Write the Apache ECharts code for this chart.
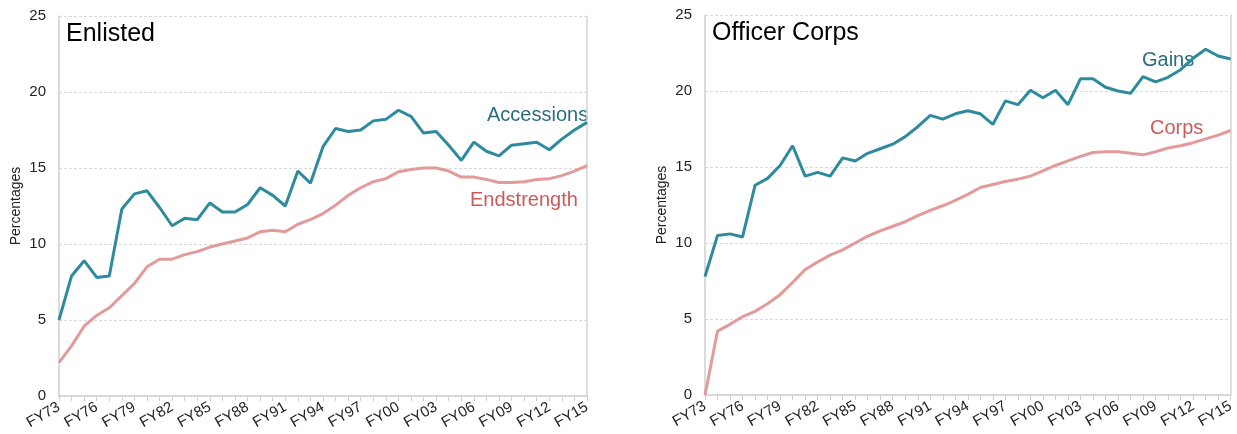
<!DOCTYPE html>
<html>
<head>
<meta charset="utf-8">
<script src="https://cdn.jsdelivr.net/npm/echarts@6/dist/echarts.min.js"></script>
<style>
  html, body { margin: 0; padding: 0; background: #fff; }
  #chart { width: 1237px; height: 434px; }
</style>
</head>
<body>
<div id="chart"></div>
<script>
// fiscal years FY73 .. FY15
const years = [];
for (let y = 1973; y <= 2015; y++) years.push('FY' + String(y % 100).padStart(2, '0'));

const yTicks = [0, 5, 10, 15, 20, 25];

// Enlisted panel
const accessions = [5.0, 7.9, 8.9, 7.8, 7.9, 12.3, 13.3, 13.5, 12.4, 11.2,
  11.7, 11.6, 12.7, 12.1, 12.1, 12.6, 13.7, 13.2, 12.5, 14.8,
  14.0, 16.4, 17.6, 17.4, 17.5, 18.1, 18.2, 18.8, 18.4, 17.3,
  17.4, 16.5, 15.5, 16.7, 16.1, 15.8, 16.5, 16.6, 16.7, 16.2,
  16.9, 17.5, 18.0];
const endstrength = [2.2, 3.3, 4.6, 5.3, 5.8, 6.6, 7.4, 8.5, 9.0, 9.0,
  9.3, 9.5, 9.8, 10.0, 10.2, 10.4, 10.8, 10.9, 10.8, 11.3,
  11.6, 12.0, 12.55, 13.2, 13.7, 14.1, 14.3, 14.75, 14.9, 15.0,
  15.0, 14.8, 14.4, 14.4, 14.25, 14.05, 14.05, 14.1, 14.25, 14.3,
  14.5, 14.8, 15.15];

// Officer Corps panel
const gains = [7.8, 10.5, 10.6, 10.4, 13.8, 14.25, 15.1, 16.4, 14.4, 14.65,
  14.4, 15.6, 15.4, 15.9, 16.2, 16.5, 17.0, 17.65, 18.4, 18.15,
  18.5, 18.7, 18.5, 17.8, 19.35, 19.1, 20.05, 19.55, 20.05, 19.1,
  20.8, 20.8, 20.25, 20.0, 19.85, 20.95, 20.6, 20.9, 21.4, 22.15,
  22.75, 22.3, 22.1];
const corps = [0.0, 4.2, 4.65, 5.15, 5.5, 6.0, 6.6, 7.4, 8.25, 8.75,
  9.2, 9.55, 10.0, 10.45, 10.8, 11.1, 11.4, 11.8, 12.15, 12.45,
  12.8, 13.2, 13.65, 13.85, 14.05, 14.2, 14.4, 14.75, 15.1, 15.4,
  15.7, 15.95, 16.0, 16.0, 15.9, 15.8, 16.0, 16.25, 16.4, 16.6,
  16.85, 17.1, 17.4];

const teal = '#2e8a9d';
const pink = '#e39a9a';
const tealText = '#2a6d7f';
const pinkText = '#cc5a5a';
const font = 'Liberation Sans, Arial, sans-serif';

const chart = echarts.init(document.getElementById('chart'));

function xAxisFor(gridIndex) {
  return {
    type: 'category',
    gridIndex: gridIndex,
    data: years,
    boundaryGap: false,
    axisLine: { lineStyle: { color: '#cfcfcf', width: 1.5 } },
    axisTick: { show: true, interval: 0, length: 5, lineStyle: { color: '#cfcfcf' } },
    axisLabel: {
      interval: 2, rotate: 30, color: '#222', fontSize: 15, fontFamily: font, margin: 10
    },
    splitLine: { show: false }
  };
}

function yAxisFor(gridIndex) {
  return {
    type: 'value',
    gridIndex: gridIndex,
    min: yTicks[0],
    max: yTicks[yTicks.length - 1],
    interval: 5,
    name: 'Percentages',
    nameLocation: 'middle',
    nameGap: 36,
    nameTextStyle: { color: '#222', fontSize: 14, fontFamily: font },
    axisLine: { show: true, lineStyle: { color: '#cfcfcf', width: 1.5 } },
    axisTick: { show: false },
    axisLabel: { color: '#222', fontSize: 15, fontFamily: font, margin: 13 },
    splitLine: { show: true, lineStyle: { color: '#dadada', type: [3, 2], width: 1 } }
  };
}

// right-hand frame line of each panel
function rightFrame(gridIndex) {
  return {
    type: 'value',
    gridIndex: gridIndex,
    position: 'right',
    min: 0, max: 25, interval: 5,
    axisLine: { show: true, lineStyle: { color: '#d4d4d4', width: 1.5 } },
    axisTick: { show: false },
    axisLabel: { show: false },
    splitLine: { show: false }
  };
}

function lineSeries(name, data, color, xi, yi) {
  return {
    name: name,
    type: 'line',
    xAxisIndex: xi,
    yAxisIndex: yi,
    data: data,
    symbol: 'none',
    lineStyle: { color: color, width: 3 },
    itemStyle: { color: color },
    animation: false
  };
}

const option = {
  backgroundColor: '#fff',
  animation: false,
  grid: [
    { left: 59, right: 650, top: 16, bottom: 38 },
    { left: 705, right: 6, top: 15, bottom: 39 }
  ],
  xAxis: [xAxisFor(0), xAxisFor(1)],
  yAxis: [yAxisFor(0), yAxisFor(1), rightFrame(0), rightFrame(1)],
  series: [
    lineSeries('Endstrength', endstrength, pink, 0, 0),
    lineSeries('Accessions', accessions, teal, 0, 0),
    lineSeries('Corps', corps, pink, 1, 1),
    lineSeries('Gains', gains, teal, 1, 1)
  ],
  graphic: [
    { type: 'text', left: 66, top: 22, style: { text: 'Enlisted', fontSize: 25, fontFamily: font, fill: '#000' } },
    { type: 'text', left: 712, top: 21, style: { text: 'Officer Corps', fontSize: 25, fontFamily: font, fill: '#000' } },
    { type: 'text', left: 487, top: 105, style: { text: 'Accessions', fontSize: 20, fontFamily: font, fill: tealText } },
    { type: 'text', left: 470, top: 190, style: { text: 'Endstrength', fontSize: 20, fontFamily: font, fill: pinkText } },
    { type: 'text', left: 1142, top: 50, style: { text: 'Gains', fontSize: 20, fontFamily: font, fill: tealText } },
    { type: 'text', left: 1150, top: 118, style: { text: 'Corps', fontSize: 20, fontFamily: font, fill: pinkText } }
  ]
};

chart.setOption(option);
</script>
</body>
</html>
